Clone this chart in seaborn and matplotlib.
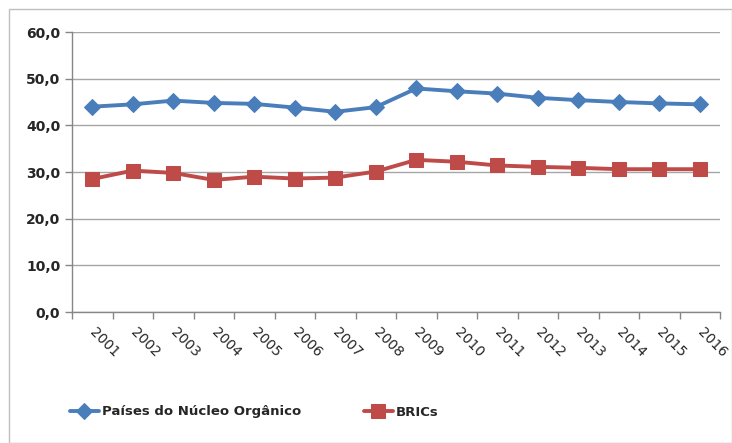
import matplotlib.pyplot as plt
import matplotlib.patches as mpatches
import pandas as pd
import seaborn as sns
from matplotlib.ticker import FixedLocator, FuncFormatter

years = ["2001", "2002", "2003", "2004", "2005", "2006", "2007", "2008",
         "2009", "2010", "2011", "2012", "2013", "2014", "2015", "2016"]
nucleo = [44.0, 44.5, 45.3, 44.8, 44.6, 43.8, 42.9, 43.9,
          47.9, 47.3, 46.8, 45.9, 45.4, 45.0, 44.7, 44.5]
brics = [28.5, 30.3, 29.8, 28.3, 29.0, 28.6, 28.8, 30.1,
         32.6, 32.2, 31.4, 31.1, 30.9, 30.6, 30.6, 30.6]

label_nucleo = "Países do Núcleo Orgânico"
label_brics = "BRICs"

blue = "#4a7ebb"
red = "#be4b48"

sns.set_style("white")
plt.rcParams["font.family"] = ["DejaVu Sans"]
plt.rcParams["xtick.bottom"] = True
plt.rcParams["ytick.left"] = True

df = pd.DataFrame({"ano": years, "nucleo": nucleo, "brics": brics})

fig = plt.figure(figsize=(7.32, 4.43), dpi=100)
ax = fig.add_axes([72 / 732, 1 - 312 / 443, (720 - 72) / 732, (312 - 32) / 443])

sns.lineplot(data=df, x="ano", y="nucleo", ax=ax, color=blue, marker="D",
             markersize=8.5, markeredgecolor=blue, linewidth=2.8,
             label=label_nucleo, legend=False)
sns.lineplot(data=df, x="ano", y="brics", ax=ax, color=red, marker="s",
             markersize=9.5, markeredgecolor=red, linewidth=2.8,
             label=label_brics, legend=False)

ax.set_xlim(-0.5, len(years) - 0.5)
ax.set_ylim(0, 60)
ax.set_yticks(range(0, 61, 10))
ax.yaxis.set_major_formatter(FuncFormatter(lambda v, p: f"{v:.1f}".replace(".", ",")))
ax.grid(axis="y", color="#a6a6a6", linewidth=1)
ax.set_axisbelow(True)

# labels at category centres, tick marks at boundaries
ax.set_xticks(range(len(years)))
ax.set_xticklabels(years, rotation=-45, ha="left", va="center",
                   rotation_mode="anchor", fontsize=10)
ax.xaxis.set_minor_locator(FixedLocator([i - 0.5 for i in range(len(years) + 1)]))
ax.tick_params(axis="x", which="major", length=0, pad=13, bottom=True)
ax.tick_params(axis="x", which="minor", length=5, color="#868686", width=1,
               bottom=True)
ax.tick_params(axis="y", length=5, color="#868686", width=1, left=True)
for lab in ax.get_yticklabels():
    lab.set_fontweight("bold")
    lab.set_fontsize(10)

for side in ["top", "right"]:
    ax.spines[side].set_visible(False)
for side in ["left", "bottom"]:
    ax.spines[side].set_color("#868686")
    ax.spines[side].set_linewidth(1)

ax.set_xlabel("")
ax.set_ylabel("")

handles = ax.get_lines()
leg_font = {"weight": "bold", "size": 9.5}
fig.legend(handles=[handles[0]], labels=[label_nucleo], loc="center left",
           bbox_to_anchor=(58 / 732, 1 - 412 / 443), frameon=False,
           prop=leg_font, handlelength=2.2, handletextpad=0.2)
fig.legend(handles=[handles[1]], labels=[label_brics], loc="center left",
           bbox_to_anchor=(352 / 732, 1 - 412 / 443), frameon=False,
           prop=leg_font, handlelength=2.2, handletextpad=0.2)

# outer chart border
fig.patches.append(mpatches.Rectangle((9 / 732, 0), 1 - 9 / 732, 1 - 9 / 443,
                                      transform=fig.transFigure, fill=False,
                                      edgecolor="#bfbfbf", linewidth=1))

fig.savefig("out.png", dpi=100)
